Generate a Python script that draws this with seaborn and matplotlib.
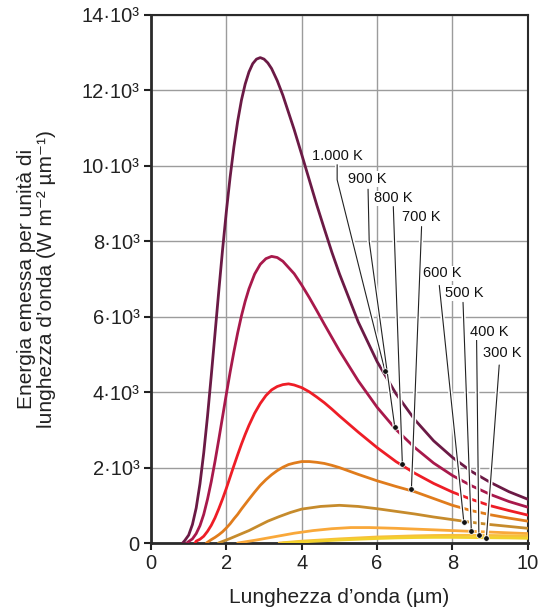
import pandas as pd
import matplotlib
matplotlib.use("Agg")
import matplotlib.pyplot as plt
import matplotlib.patheffects as pe
import seaborn as sns

# DATA (wavelength in um, emitted energy in W m^-2 um^-1)
temps = ["1.000 K", "900 K", "800 K", "700 K", "600 K", "500 K", "400 K", "300 K"]

wl_1000 = [0.84, 0.9, 1.0, 1.1, 1.2, 1.3, 1.4, 1.5, 1.6, 1.7, 1.8, 1.9, 2.0, 2.1, 2.2, 2.3,
           2.4, 2.5, 2.6, 2.7, 2.8, 2.9, 3.0, 3.1, 3.2, 3.35, 3.5, 3.8, 4.0, 4.2, 4.4, 4.6,
           4.8, 5.0, 5.5, 6.0, 6.5, 7.0, 7.5, 8.0, 8.5, 9.0, 9.5, 10.0]
e_1000 = [0, 70, 210, 490, 930, 1570, 2390, 3360, 4440, 5560, 6690, 7780, 8790, 9700,
          10500, 11180, 11740, 12170, 12490, 12710, 12830, 12870, 12830, 12730, 12580,
          12260, 11870, 10960, 10300, 9630, 8960, 8330, 7710, 7140, 5860, 4810, 3960,
          3270, 2710, 2270, 1900, 1610, 1360, 1160]

wl_900 = [0.95, 1.0, 1.1, 1.2, 1.3, 1.4, 1.5, 1.6, 1.7, 1.8, 1.9, 2.0, 2.1, 2.2, 2.3, 2.4,
          2.5, 2.6, 2.75, 2.9, 3.05, 3.2, 3.35, 3.5, 3.8, 4.0, 4.2, 4.4, 4.6, 4.8, 5.0,
          5.5, 6.0, 6.5, 7.0, 7.5, 8.0, 8.5, 9.0, 9.5, 10.0]
e_900 = [0, 40, 110, 250, 460, 760, 1160, 1630, 2170, 2750, 3350, 3950, 4530, 5070, 5570,
         6020, 6410, 6740, 7130, 7390, 7540, 7600, 7570, 7470, 7140, 6840, 6510, 6160,
         5800, 5450, 5100, 4300, 3600, 3010, 2530, 2120, 1790, 1520, 1290, 1100, 950]

wl_800 = [1.17, 1.2, 1.3, 1.4, 1.5, 1.6, 1.7, 1.8, 1.9, 2.0, 2.1, 2.2, 2.3, 2.4, 2.5, 2.6,
          2.75, 2.9, 3.05, 3.2, 3.35, 3.5, 3.65, 3.8, 4.0, 4.2, 4.4, 4.6, 4.8, 5.0, 5.5,
          6.0, 6.5, 7.0, 7.5, 8.0, 8.5, 9.0, 9.5, 10.0]
e_800 = [0, 50, 100, 180, 310, 470, 670, 910, 1170, 1450, 1750, 2050, 2340, 2620, 2880,
         3120, 3440, 3700, 3910, 4060, 4150, 4200, 4220, 4190, 4120, 4010, 3870, 3720,
         3550, 3370, 2940, 2530, 2160, 1850, 1580, 1350, 1160, 990, 860, 740]

wl_700 = [1.47, 1.6, 1.7, 1.8, 1.9, 2.0, 2.1, 2.2, 2.3, 2.4, 2.5, 2.6, 2.75, 2.9, 3.05,
          3.2, 3.35, 3.5, 3.65, 3.8, 4.0, 4.2, 4.4, 4.6, 4.8, 5.0, 5.5, 6.0, 6.5, 7.0,
          7.5, 8.0, 8.5, 9.0, 9.5, 10.0]
e_700 = [0, 90, 150, 220, 300, 400, 510, 640, 760, 900, 1030, 1160, 1350, 1530, 1680,
         1810, 1920, 2010, 2080, 2120, 2160, 2160, 2140, 2110, 2060, 2000, 1820, 1650,
         1500, 1360, 1180, 1000, 860, 750, 660, 580]

wl_600 = [1.79, 2.1, 2.6, 3.1, 3.4, 3.7, 4.0, 4.5, 5.0, 5.5, 6.0, 6.5, 7.0, 7.5, 8.0, 8.5,
          9.0, 9.5, 10.0]
e_600 = [0, 120, 330, 580, 700, 810, 900, 970, 1000, 970, 910, 840, 770, 690, 620, 550,
         490, 440, 390]

wl_500 = [2.3, 2.8, 3.3, 3.8, 4.3, 4.8, 5.3, 5.8, 6.5, 7.0, 7.5, 8.0, 8.5, 9.0, 9.5, 10.0]
e_500 = [0, 80, 170, 260, 330, 380, 410, 410, 390, 370, 350, 330, 310, 290, 270, 250]

wl_400 = [3.4, 4.0, 5.0, 6.0, 7.0, 7.5, 8.0, 8.5, 9.0, 9.5, 10.0]
e_400 = [0, 50, 110, 160, 190, 200, 205, 205, 200, 195, 190]

wl_300 = [3.5, 4.0, 4.5, 5.0, 5.5, 6.0, 6.5, 7.0, 7.5, 8.0, 8.5, 9.0, 9.5, 10.0]
e_300 = [0, 30, 55, 80, 100, 120, 135, 145, 150, 150, 145, 140, 135, 125]

colors = ["#6b1a45", "#a8194b", "#ee1d26", "#e07c1c", "#c68b2c", "#f9a83a", "#f8bf3c", "#f2d12c"]

x_ticks = [0, 2, 4, 6, 8, 10]
y_ticks = [0, 2000, 4000, 6000, 8000, 10000, 12000, 14000]
y_tick_labels = ["0", "2·10³", "4·10³", "6·10³", "8·10³", "10·10³", "12·10³", "14·10³"]

# label text position, leader line path (last point = dot on the curve)
labels_pos = {
    "1.000 K": ((4.95, 10260), [(4.94, 10030), (4.94, 9630), (6.21, 4560)]),
    "900 K": ((5.74, 9650), [(5.76, 9380), (5.79, 8000), (6.47, 3070)]),
    "800 K": ((6.43, 9140), [(6.43, 8920), (6.67, 2100)]),
    "700 K": ((7.16, 8640), [(7.18, 8390), (6.91, 1420)]),
    "600 K": ((7.73, 7150), [(7.65, 6830), (8.30, 570)]),
    "500 K": ((8.31, 6630), [(8.28, 6380), (8.50, 320)]),
    "400 K": ((8.97, 5600), [(8.64, 5380), (8.70, 210)]),
    "300 K": ((9.32, 5050), [(9.24, 4720), (8.90, 140)]),
}

# BUILD LONG TABLE
series = [(wl_1000, e_1000), (wl_900, e_900), (wl_800, e_800), (wl_700, e_700),
          (wl_600, e_600), (wl_500, e_500), (wl_400, e_400), (wl_300, e_300)]
rows = []
for t, (wl, e) in zip(temps, series):
    for a, b in zip(wl, e):
        rows.append({"wl": a, "e": b, "T": t})
df = pd.DataFrame(rows)

# STYLE
sns.set_theme(style="white")
plt.rcParams["font.family"] = ["Liberation Sans", "DejaVu Sans"]

fig = plt.figure(figsize=(5.47, 6.12), dpi=100)
ax = fig.add_axes([0.276, 0.1127, 0.689, 0.8628])

sns.lineplot(data=df, x="wl", y="e", hue="T", hue_order=temps,
             palette=dict(zip(temps, colors)), sort=False, estimator=None,
             linewidth=2.0, legend=False, ax=ax, zorder=3,
             solid_joinstyle="round", solid_capstyle="round")

ax.set_xlim(0, 10)
ax.set_ylim(0, 14000)
ax.set_xticks(x_ticks)
ax.set_xticklabels([str(v) for v in x_ticks])
ax.set_yticks(y_ticks)
ax.set_yticklabels(y_tick_labels)
ax.grid(True, color="#9c9c9c", linewidth=1.0)
ax.set_axisbelow(True)

for s in ax.spines.values():
    s.set_color("#2a2a2a")
    s.set_linewidth(1.5)
ax.spines["left"].set_linewidth(2)
ax.spines["bottom"].set_linewidth(2)
ax.tick_params(bottom=True, left=True, direction="out", length=5, width=1.5,
               colors="#222222", labelsize=14.5, pad=3)

ax.set_xlabel("Lunghezza d’onda (µm)", fontsize=15, color="#222222", labelpad=11)
ax.set_ylabel("Energia emessa per unità di\nlunghezza d’onda (W m⁻² µm⁻¹)",
              fontsize=15, color="#222222", linespacing=1.05)
ax.yaxis.set_label_coords(-0.252, 0.5)

# LABELS WITH LEADER LINES
halo = [pe.withStroke(linewidth=3, foreground="white")]
for t in temps:
    (tx, ty), path = labels_pos[t]
    ax.text(tx, ty, t, ha="center", va="center", fontsize=10.5, color="#111111",
            zorder=6, bbox=dict(facecolor="white", edgecolor="none", pad=0.5))
    xs = [p[0] for p in path]
    ys = [p[1] for p in path]
    ax.plot(xs, ys, color="#222222", linewidth=0.8, zorder=5, path_effects=halo)
    ax.scatter([xs[-1]], [ys[-1]], s=16, color="#111111", edgecolor="white",
               linewidth=0.5, zorder=7)

plt.savefig("out.png", dpi=100)
